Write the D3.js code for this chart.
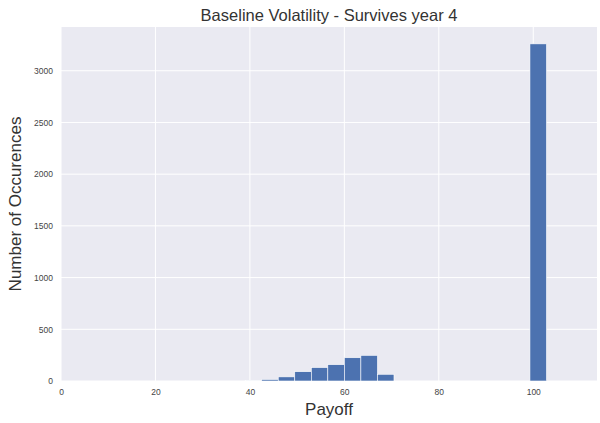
<!DOCTYPE html>
<html>
<head>
<meta charset="utf-8">
<script src="https://cdn.jsdelivr.net/npm/d3@7"></script>
<style>
  html, body { margin: 0; padding: 0; background: #ffffff; }
  svg { display: block; }
</style>
</head>
<body>
<svg id="chart" width="600" height="423"></svg>
<script>
// Histogram of simulated payoffs (survives year 4)
const binStarts = [39.0, 42.5, 46.0, 49.5, 53.0, 56.5, 60.0, 63.5, 67.0, 99.3];
const binWidth = 3.51;
const counts = [5, 15, 40, 90, 130, 158, 225, 248, 65, 3260];
const xTicks = [0, 20, 40, 60, 80, 100];
const yTicks = [0, 500, 1000, 1500, 2000, 2500, 3000];
const xDomain = [0, 113.5];
const yDomain = [0, 3423];

const svg = d3.select("#chart");
const margin = { left: 61, right: 3, top: 27, bottom: 42 };
const W = 600, H = 423;

const x = d3.scaleLinear().domain(xDomain).range([margin.left, W - margin.right]);
const y = d3.scaleLinear().domain(yDomain).range([H - margin.bottom, margin.top]);

// plot background
svg.append("rect")
  .attr("x", x(xDomain[0])).attr("y", y(yDomain[1]))
  .attr("width", x(xDomain[1]) - x(xDomain[0]))
  .attr("height", y(yDomain[0]) - y(yDomain[1]))
  .attr("fill", "#EAEAF2");

// grid lines
svg.append("g").selectAll("line.v").data(xTicks).join("line")
  .attr("x1", d => x(d)).attr("x2", d => x(d))
  .attr("y1", y(yDomain[0])).attr("y2", y(yDomain[1]))
  .attr("stroke", "#ffffff").attr("stroke-width", 1);
svg.append("g").selectAll("line.h").data(yTicks).join("line")
  .attr("x1", x(xDomain[0])).attr("x2", x(xDomain[1]))
  .attr("y1", d => y(d)).attr("y2", d => y(d))
  .attr("stroke", "#ffffff").attr("stroke-width", 1);

// bars
const bars = binStarts.map((s, i) => ({ x0: s, x1: s + binWidth, n: counts[i] }));
svg.append("g").selectAll("rect").data(bars).join("rect")
  .attr("x", d => x(d.x0))
  .attr("width", d => x(d.x1) - x(d.x0))
  .attr("y", d => y(d.n))
  .attr("height", d => y(0) - y(d.n))
  .attr("fill", "#4C72B0")
  .attr("stroke", "#ffffff")
  .attr("stroke-width", 0.6);

// axes (labels only, no domain lines or tick marks)
const xAxis = svg.append("g")
  .attr("transform", `translate(0,${y(0)})`)
  .call(d3.axisBottom(x).tickValues(xTicks).tickSize(0).tickPadding(8).tickFormat(d3.format("d")));
xAxis.select(".domain").remove();
xAxis.selectAll("text").attr("fill", "#444").style("font-family", "Liberation Sans, Arial, sans-serif").style("font-size", "8.5px");

const yAxis = svg.append("g")
  .attr("transform", `translate(${x(0)},0)`)
  .call(d3.axisLeft(y).tickValues(yTicks).tickSize(0).tickPadding(8).tickFormat(d3.format("d")));
yAxis.select(".domain").remove();
yAxis.selectAll("text").attr("fill", "#444").style("font-family", "Liberation Sans, Arial, sans-serif").style("font-size", "8.5px");

// title and axis labels
svg.append("text")
  .attr("x", (x(xDomain[0]) + x(xDomain[1])) / 2).attr("y", 21)
  .attr("text-anchor", "middle")
  .attr("fill", "#333")
  .style("font-family", "Liberation Sans, Arial, sans-serif").style("font-size", "16.5px")
  .text("Baseline Volatility - Survives year 4");

svg.append("text")
  .attr("x", (x(xDomain[0]) + x(xDomain[1])) / 2).attr("y", 415)
  .attr("text-anchor", "middle")
  .attr("fill", "#333")
  .style("font-family", "Liberation Sans, Arial, sans-serif").style("font-size", "17px")
  .text("Payoff");

svg.append("text")
  .attr("transform", `translate(21,${(y(yDomain[0]) + y(yDomain[1])) / 2}) rotate(-90)`)
  .attr("text-anchor", "middle")
  .attr("fill", "#333")
  .style("font-family", "Liberation Sans, Arial, sans-serif").style("font-size", "17px")
  .text("Number of Occurences");
</script>
</body>
</html>
